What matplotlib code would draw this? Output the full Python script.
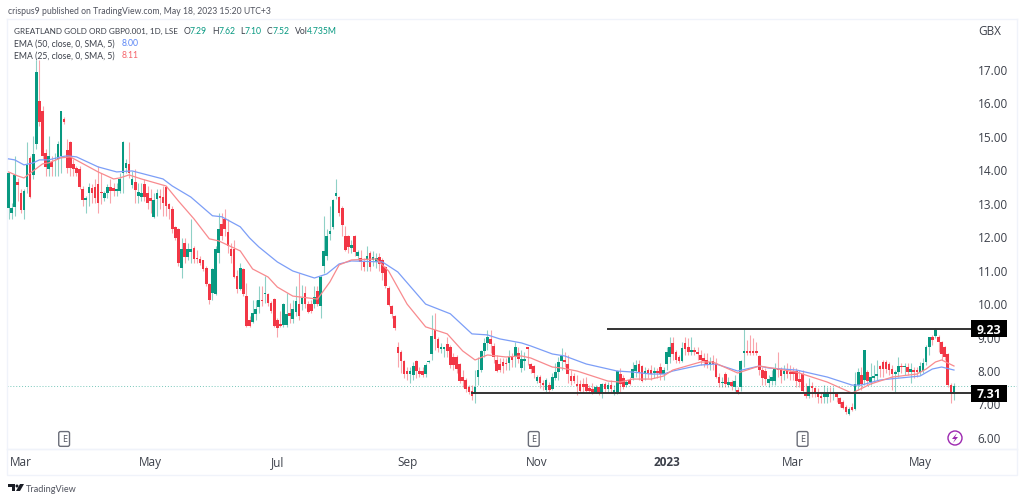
import matplotlib
matplotlib.use('Agg')
import matplotlib.pyplot as plt
from matplotlib.patches import Rectangle, Circle, Polygon
from matplotlib.transforms import Affine2D
import numpy as np

W, H = 1024, 502
plt.rcParams['font.family'] = ['Open Sans', 'DejaVu Sans']
HEAD_FONT = ['Lato', 'DejaVu Sans']
HEAD_SIZE = 6.2

opens = [
    12.85,12.70,12.88,13.62,13.30,12.78,13.47,14.35,13.82,14.75,
    16.05,15.75,14.50,14.00,14.22,14.30,14.32,14.40,15.50,14.57,
    14.80,14.15,14.03,14.02,13.40,13.07,13.28,13.45,13.48,13.55,
    13.30,13.15,13.28,13.48,13.45,13.35,13.35,13.90,14.05,14.15,
    13.53,13.62,13.20,13.18,13.55,13.28,13.15,12.58,13.10,13.20,
    13.18,13.48,12.95,12.81,12.26,12.20,11.06,11.80,11.39,11.53,
    11.66,11.33,11.33,11.28,11.06,10.58,10.29,10.28,11.51,12.36,
    12.51,12.11,11.61,11.61,10.81,10.43,11.01,10.21,9.49,9.44,
    9.66,9.88,10.08,10.28,10.28,10.01,10.11,9.49,9.38,9.36,
    9.36,9.71,9.53,9.73,9.97,9.97,10.30,9.97,9.97,9.97,
    10.37,9.90,11.12,11.40,12.07,12.27,13.19,13.16,12.83,12.02,
    12.02,11.64,12.02,11.42,11.34,11.22,11.30,11.50,11.30,11.24,
    11.37,11.30,11.07,10.44,9.92,9.60,8.68,8.55,8.28,7.98,
    7.88,7.85,8.28,7.98,7.98,7.88,8.25,8.48,9.20,8.92,
    8.63,8.63,8.78,8.68,8.38,8.38,8.18,7.78,7.71,7.48,
    7.38,7.28,7.78,8.00,8.58,8.80,8.93,8.73,8.30,8.18,
    8.23,8.20,8.20,8.38,8.38,8.50,8.05,8.28,8.68,8.17,
    8.12,7.68,7.79,7.62,7.41,7.56,7.44,7.75,7.93,8.28,
    8.30,8.18,7.83,7.81,7.58,7.58,7.58,7.58,7.45,7.43,
    7.33,7.48,7.31,7.58,7.43,7.55,7.31,7.33,7.88,7.75,
    7.55,7.70,7.76,7.98,8.18,8.11,7.88,8.00,8.01,7.90,
    7.98,8.08,7.88,8.18,8.38,8.81,8.53,8.38,8.28,8.81,
    8.68,8.55,8.60,8.53,8.45,8.35,8.31,8.18,8.28,8.18,
    7.79,7.60,7.89,7.56,7.63,7.48,7.41,7.49,8.50,8.58,
    8.58,8.58,8.58,8.41,8.00,7.98,7.62,7.68,7.68,8.03,
    8.03,7.88,8.03,7.93,7.98,7.98,7.73,7.88,7.28,7.23,
    7.53,7.45,7.35,7.21,7.18,7.18,7.31,7.28,7.31,7.15,
    7.03,6.91,6.70,6.91,6.84,7.56,7.85,7.69,7.93,7.63,
    7.75,7.81,8.13,8.23,8.23,8.18,8.03,7.88,7.95,8.13,
    8.08,8.10,7.93,8.00,8.00,7.95,7.98,8.23,8.68,8.98,
    9.01,8.98,8.83,8.68,8.48,7.56,7.29,
]
highs = [
    13.90,13.00,14.40,13.75,13.40,13.40,14.80,14.40,15.00,17.25,
    17.25,15.90,14.60,15.00,14.40,14.50,14.85,15.75,15.55,14.90,
    14.85,14.30,14.10,14.10,13.50,13.20,13.60,13.55,13.70,14.10,
    13.90,13.35,13.55,13.70,13.60,13.60,13.90,14.85,14.30,14.80,
    13.95,14.00,13.60,13.60,13.70,13.50,13.40,13.30,13.40,13.40,
    13.50,13.50,13.00,12.90,12.30,12.25,11.95,11.95,11.80,12.50,
    11.70,11.60,11.40,11.30,11.10,10.60,11.05,11.70,12.70,12.70,
    12.80,12.50,11.80,11.90,11.00,11.20,11.05,10.60,9.60,10.10,
    10.10,10.50,10.50,10.80,10.30,10.05,10.15,9.55,9.75,10.00,
    10.30,10.00,10.10,10.50,10.90,10.55,10.50,10.05,10.10,10.50,
    10.50,10.85,12.60,12.20,12.90,13.10,13.70,13.20,12.90,12.30,
    12.05,11.90,12.05,11.60,11.60,11.35,11.70,11.55,11.55,11.50,
    11.50,11.35,11.10,10.50,9.95,9.65,8.85,8.60,8.30,8.10,
    8.10,8.25,8.30,8.10,8.10,8.20,8.30,9.65,9.70,9.00,
    8.80,8.70,9.00,8.75,8.50,8.45,8.20,8.00,7.75,7.55,
    7.55,8.00,8.40,8.60,8.95,9.20,9.20,8.80,8.45,8.35,
    8.35,8.35,8.60,8.50,8.85,8.70,8.60,8.55,8.70,8.20,
    8.15,7.85,7.85,7.70,7.75,7.65,7.90,8.20,8.40,8.65,
    8.55,8.45,8.00,7.90,7.85,7.70,7.75,7.80,7.55,7.60,
    7.55,7.50,7.60,7.65,7.65,7.70,7.55,8.00,8.05,7.85,
    7.70,7.78,8.25,8.30,8.30,8.15,8.10,8.05,8.15,8.10,
    8.05,8.20,8.10,8.70,9.00,9.00,8.60,8.45,8.85,9.00,
    8.95,9.00,8.70,8.70,8.60,8.50,8.50,8.40,8.45,8.35,
    7.90,7.80,7.95,7.80,7.70,7.85,7.50,8.30,9.23,8.90,
    9.05,8.95,8.85,8.45,8.10,8.05,7.85,8.00,8.20,8.55,
    8.10,8.15,8.20,8.15,8.10,8.05,8.00,8.00,7.60,7.75,
    7.65,7.50,7.45,7.35,7.55,7.50,7.50,7.50,7.35,7.20,
    7.10,6.95,6.90,7.00,7.95,8.05,8.10,8.60,8.00,8.20,
    8.15,8.30,8.15,8.30,8.30,8.25,8.15,8.00,8.40,8.20,
    8.20,8.20,8.20,8.10,8.10,8.25,8.35,8.75,9.00,9.05,
    9.25,9.05,8.88,8.72,8.50,7.60,7.62,
]
lows = [
    12.50,12.50,12.60,13.05,12.70,12.50,13.30,13.15,13.70,14.60,
    15.30,14.30,13.80,13.80,13.80,13.80,13.80,13.90,15.35,13.90,
    13.80,13.80,13.80,13.40,12.90,12.70,12.90,13.00,13.00,12.70,
    12.95,13.05,13.15,13.00,13.20,13.20,13.30,13.30,13.90,13.75,
    13.45,13.00,13.00,13.05,13.05,12.80,12.70,12.55,12.60,12.80,
    12.60,12.60,12.50,12.10,11.90,11.10,10.75,11.20,11.30,11.20,
    11.20,11.20,11.15,10.95,10.50,9.98,10.10,10.25,11.20,11.90,
    12.00,11.50,11.20,10.75,10.30,10.40,10.20,9.30,9.30,9.40,
    9.50,9.70,9.90,10.00,9.90,9.70,9.30,9.00,9.30,9.30,
    9.30,9.40,9.40,9.60,9.50,9.80,9.85,9.70,9.70,9.85,
    9.90,9.55,10.90,11.30,11.90,12.20,13.10,12.60,12.00,11.55,
    11.50,11.50,11.40,11.30,11.00,10.95,10.95,10.95,11.10,11.05,
    10.95,10.70,10.45,9.90,9.55,9.20,8.10,7.90,7.75,7.70,
    7.60,7.70,7.75,7.80,7.80,7.80,8.20,8.30,8.60,8.55,
    8.50,8.40,8.40,8.05,8.00,7.90,7.60,7.50,7.35,7.28,
    7.10,7.00,7.55,7.95,8.40,8.60,8.50,8.20,7.95,7.95,
    7.90,8.00,8.00,8.10,8.10,8.20,7.95,8.00,8.15,7.90,
    7.75,7.60,7.45,7.40,7.35,7.35,7.40,7.70,7.70,8.00,
    8.10,7.60,7.55,7.60,7.25,7.30,7.35,7.30,7.30,7.28,
    7.30,7.25,7.15,7.30,7.30,7.30,7.25,7.28,7.30,7.42,
    7.50,7.55,7.70,7.80,7.70,7.65,7.70,7.75,7.70,7.75,
    7.75,7.70,7.70,8.00,8.20,8.30,8.20,8.20,8.25,8.45,
    8.45,8.45,8.45,8.30,8.15,8.10,8.05,8.00,8.00,7.75,
    7.50,7.50,7.50,7.50,7.40,7.38,7.28,7.38,8.10,8.45,
    8.45,8.45,8.45,7.85,7.55,7.55,7.50,7.55,7.55,7.80,
    7.60,7.70,7.75,7.70,7.70,7.50,7.50,7.30,7.15,7.15,
    7.20,7.20,7.00,7.00,7.00,7.00,7.05,7.10,7.05,6.90,
    6.85,6.70,6.65,6.78,6.80,7.40,7.40,7.55,7.55,7.55,
    7.65,7.70,7.80,7.80,7.90,7.85,7.40,7.35,7.80,7.90,
    7.85,7.85,7.60,7.75,7.80,7.85,7.90,8.15,8.45,8.75,
    8.95,8.55,8.30,8.30,7.50,7.00,7.10,
]
closes = [
    13.90,12.85,13.82,13.53,12.78,13.35,14.12,13.18,14.45,16.92,
    15.40,14.40,14.08,14.40,14.08,14.35,14.75,15.73,15.40,14.05,
    14.05,14.02,13.90,13.48,13.08,13.15,13.48,13.28,13.15,13.00,
    13.28,13.28,13.48,13.35,13.35,13.40,13.70,14.80,14.18,13.90,
    13.70,13.38,13.32,13.28,13.18,12.98,13.05,13.07,13.28,13.15,
    12.98,12.90,12.82,12.21,11.96,11.19,11.61,11.39,11.61,11.61,
    11.33,11.31,11.21,11.01,10.56,10.08,11.01,11.61,12.21,12.01,
    12.21,11.71,11.41,10.79,10.41,11.06,10.26,9.33,9.33,9.69,
    9.81,10.08,10.06,10.30,10.01,9.76,9.31,9.26,9.33,9.98,
    9.66,9.61,9.83,10.07,9.60,10.14,9.97,9.73,9.77,10.17,
    9.97,10.77,11.57,12.02,12.15,13.09,13.29,12.69,12.32,11.59,
    11.67,11.74,11.52,11.54,11.24,11.07,11.40,11.07,11.37,11.34,
    11.17,10.90,10.50,9.94,9.67,9.27,8.50,8.28,7.88,7.88,
    7.98,8.13,7.98,7.88,7.85,8.15,8.28,9.03,8.92,8.65,
    8.70,8.68,8.58,8.15,8.15,8.03,7.68,7.68,7.43,7.33,
    7.23,7.50,8.00,8.58,8.80,8.98,8.78,8.38,7.98,8.00,
    8.13,8.18,8.38,8.31,8.68,8.33,8.33,8.33,8.63,8.03,
    7.90,7.79,7.60,7.55,7.69,7.41,7.79,7.93,8.23,8.43,
    8.23,7.88,7.68,7.68,7.51,7.38,7.48,7.38,7.38,7.35,
    7.48,7.33,7.58,7.43,7.55,7.42,7.41,7.98,7.58,7.50,
    7.65,7.58,8.03,8.15,7.93,7.68,7.98,7.90,7.88,7.98,
    7.92,7.88,8.01,8.53,8.68,8.48,8.31,8.28,8.66,8.63,
    8.55,8.61,8.55,8.48,8.31,8.28,8.18,8.23,8.18,7.79,
    7.60,7.65,7.59,7.65,7.51,7.68,7.34,8.28,8.58,8.50,
    8.50,8.50,8.50,7.99,7.75,7.72,7.72,7.78,8.03,8.00,
    7.83,7.98,7.88,7.88,7.88,7.68,7.63,7.38,7.23,7.53,
    7.45,7.31,7.18,7.15,7.31,7.31,7.28,7.31,7.18,6.98,
    6.88,6.75,6.85,6.81,7.59,7.93,7.58,8.59,7.68,7.78,
    7.83,7.88,8.03,8.03,8.03,8.01,7.88,7.93,8.13,8.08,
    8.10,7.93,8.03,7.95,7.93,8.13,8.21,8.68,8.98,8.90,
    9.21,8.83,8.48,8.38,7.54,7.29,7.52,
]

ema50_bars = [0,2,5,8,10,13,17,19,22,29,35,40,50,53,59,66,69,75,78,81,87,92,99,103,107,111,121,126,135,143,150,155,159,166,169,176,180,187,197,202,208,212,215,224,229,236,243,246,255,265,273,276,282,285,295,299,302,306]
ema50_vals = [14.31,14.28,14.13,14.19,14.28,14.28,14.37,14.40,14.37,14.07,13.92,13.95,13.71,13.50,13.17,12.61,12.58,12.28,11.95,11.68,11.23,10.96,10.75,10.87,11.17,11.26,11.23,10.93,9.97,9.68,9.08,9.05,8.93,8.81,8.72,8.48,8.42,8.18,7.97,7.94,7.88,7.88,7.97,8.15,8.18,7.97,8.12,8.06,8.00,7.79,7.55,7.55,7.70,7.73,7.82,8.03,8.09,8.00]
ema25_bars = [0,3,5,8,11,13,17,20,23,29,34,36,39,43,51,55,60,65,68,75,79,84,87,92,100,104,107,111,119,123,129,135,142,147,151,155,161,166,169,176,179,184,194,198,202,208,212,215,224,228,236,243,249,255,265,273,279,286,294,297,300,302,306]
ema25_vals = [13.92,13.80,13.74,13.95,14.16,14.19,14.34,14.37,14.22,13.92,13.71,13.74,13.83,13.71,13.50,13.05,12.52,11.92,11.86,11.56,11.02,10.78,10.48,10.21,10.12,10.63,11.14,11.29,11.32,10.96,9.97,9.29,9.08,8.57,8.30,8.45,8.39,8.42,8.36,8.09,8.06,7.97,7.67,7.64,7.73,7.73,7.82,8.00,8.24,8.24,7.91,8.12,8.03,7.94,7.64,7.31,7.58,7.79,7.88,8.03,8.24,8.30,8.12]

price_ticks = [6, 7, 8, 9, 10, 11, 12, 13, 14, 15, 16, 17]
month_bars = [4, 46, 87, 129, 171, 213, 254, 295]
month_labels = ['Mar', 'May', 'Jul', 'Sep', 'Nov', '2023', 'Mar', 'May']
earnings_bars = [18, 170, 257]
resistance = 9.23
support = 7.31
last_close = 7.52

GREEN = '#089981'
RED = '#F23645'
TXT = '#3c404a'

fig = plt.figure(figsize=(W / 100, H / 100), dpi=100)
# y pixels measured from the top of the image
px = Affine2D().scale(1 / W, -1 / H).translate(0, 1) + fig.transFigure

# chart pane, x 7..1017 and y 20..450
ax = fig.add_axes([7 / W, 1 - 450 / H, 1010 / W, 430 / H])
ax.set_xlim(-0.49, 326.4)
ax.set_ylim(5.64, 18.49)
for s in ax.spines.values():
    s.set_color('#f0f3fa')
    s.set_linewidth(1)

o = np.array(opens)
c = np.array(closes)
bars = np.arange(len(o))
up = c >= o
colors = np.where(up, GREEN, RED)

ax.vlines(bars, lows, highs, colors=colors, linewidth=0.8, alpha=0.45, zorder=2)
ax.bar(bars, np.maximum(np.abs(c - o), 0.03), bottom=np.minimum(o, c), width=0.85,
       color=colors, linewidth=0, zorder=3)

ax.plot(ema50_bars, ema50_vals, color='#7c9ef7', lw=0.9, zorder=4)
ax.plot(ema25_bars, ema25_vals, color='#f88a8e', lw=0.9, zorder=4)

line_end = 312.5
ax.axhline(last_close, color=GREEN, lw=0.7, ls=(0, (1, 2)), alpha=0.55, zorder=1)
ax.plot([150.1, line_end], [support, support], color='#333333', lw=1.4, zorder=5)
ax.plot([194, line_end], [resistance, resistance], color='#333333', lw=1.4, zorder=5)

# axis ticks, drawn inside the pane like the TradingView price scale
ax.yaxis.tick_right()
ax.set_yticks(price_ticks)
ax.set_yticklabels([f'{v:.2f}' for v in price_ticks], fontsize=8.5, color=TXT)
ax.set_xticks(month_bars)
ax.set_xticklabels(month_labels, fontsize=8.5, color=TXT)
ax.get_xticklabels()[5].set_fontweight('bold')
ax.tick_params(axis='y', length=0, pad=-28.5)
ax.tick_params(axis='x', length=0, pad=4.5)

# price tags: black box 36x17 px starting where the lines stop
for level, label in [(resistance, '9.23'), (support, '7.31')]:
    ym = H - ax.transData.transform((0, level))[1]
    fig.add_artist(Rectangle((971, ym - 8.5), 36, 17, transform=px, fc='black', ec='none'))
    fig.text(989 / W, 1 - (ym + 0.3) / H, label, color='white', fontsize=8.8, fontweight='bold',
             ha='center', va='center')

for b in earnings_bars:
    ax.text(b, 5.94, 'E', fontsize=6.5, color='#50535e', ha='center', va='center',
            bbox=dict(boxstyle='round,pad=0.32,rounding_size=0.2', fc='white', ec='#6a6d78', lw=1))

# lightning mark at the end of the series
fig.add_artist(Circle((955, 439), 7, transform=px, fc='white', ec='#9c27b0', lw=1))
fig.add_artist(Polygon([(957, 434), (952, 440), (955, 440), (953, 444), (958, 438), (955, 438)],
                       closed=True, transform=px, fc='#9c27b0', ec='none'))

# strip with the dates under the pane
fig.add_artist(Rectangle((7, 450), 1010, 26, transform=px, fc='none', ec='#f0f3fa', lw=1))

fig.text(8 / W, 1 - 11.5 / H, 'crispus9 published on TradingView.com, May 18, 2023 15:20 UTC+3',
         fontsize=HEAD_SIZE, color='#50535e', va='center', family=HEAD_FONT)

y0 = 1 - 31.5 / H
fig.text(13.5 / W, y0, 'GREATLAND GOLD ORD GBP0.001, 1D, LSE', fontsize=5.9, color=TXT,
         va='center', family=HEAD_FONT)
for x, lab, val, off in [(183.5, 'O', '7.29', 6.5), (212, 'H', '7.62', 6.5), (240, 'L', '7.10', 4.5),
                         (267, 'C', '7.52', 6), (295, 'Vol', '4.735M', 11.5)]:
    fig.text(x / W, y0, lab, fontsize=HEAD_SIZE, color=TXT, va='center', family=HEAD_FONT)
    fig.text((x + off) / W, y0, val, fontsize=HEAD_SIZE, color=GREEN, va='center', family=HEAD_FONT)

fig.text(13.5 / W, 1 - 44 / H, 'EMA (50, close, 0, SMA, 5)', fontsize=HEAD_SIZE, color=TXT,
         va='center', family=HEAD_FONT)
fig.text(121.5 / W, 1 - 44 / H, '8.00', fontsize=HEAD_SIZE, color='#5b86f5', va='center', family=HEAD_FONT)
fig.text(13.5 / W, 1 - 56 / H, 'EMA (25, close, 0, SMA, 5)', fontsize=HEAD_SIZE, color=TXT,
         va='center', family=HEAD_FONT)
fig.text(121.5 / W, 1 - 56 / H, '8.11', fontsize=HEAD_SIZE, color='#f5636a', va='center', family=HEAD_FONT)

fig.text(978 / W, 1 - 32 / H, 'GBX', fontsize=8.5, color=TXT, va='center')

# TradingView logo and name
fig.add_artist(Polygon([(8, 485), (15, 485), (15, 492), (12, 492), (12, 488), (8, 488)],
                       closed=True, transform=px, fc='#1a1d26', ec='none'))
fig.add_artist(Circle((17, 487), 1.5, transform=px, fc='#1a1d26', ec='none'))
fig.add_artist(Polygon([(20, 485), (24, 485), (20, 492), (16, 492)],
                       closed=True, transform=px, fc='#1a1d26', ec='none'))
fig.text(25.5 / W, 1 - 489.5 / H, 'TradingView', fontsize=HEAD_SIZE + 0.4, color='#50535e', va='center',
         family=HEAD_FONT)

fig.savefig('out.png', dpi=100)
